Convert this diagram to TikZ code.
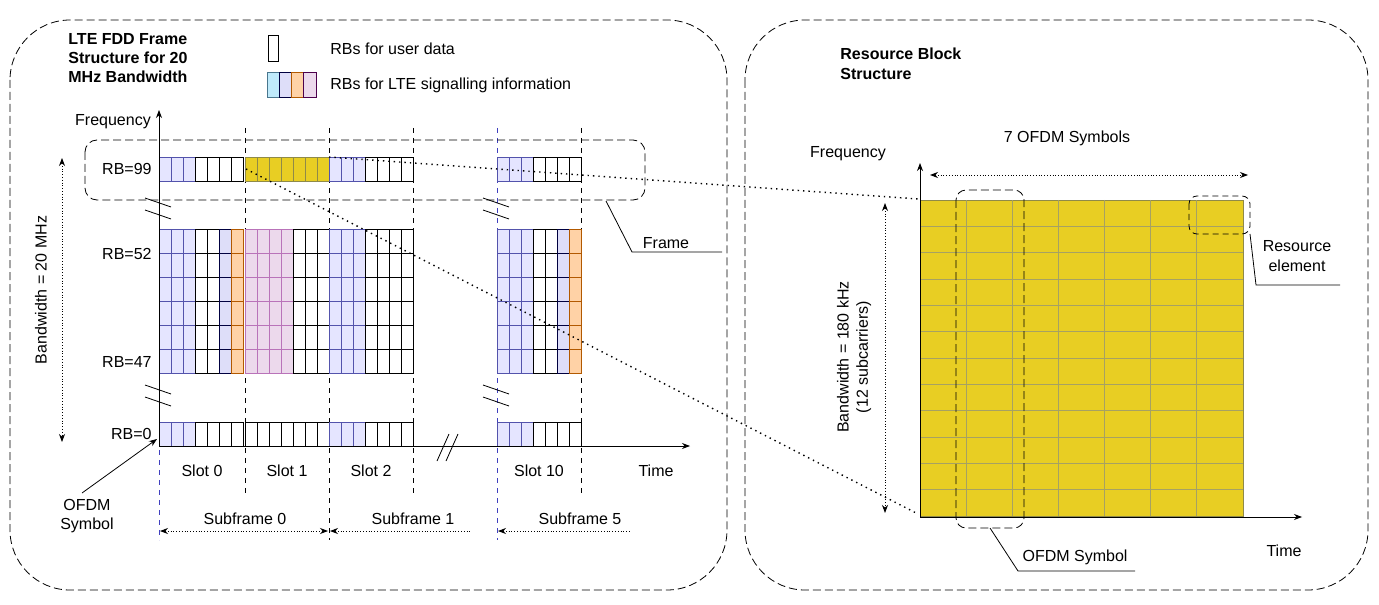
\documentclass[tikz,border=0pt]{standalone}
\usepackage{fontspec}
\setmainfont{Liberation Sans}
\usetikzlibrary{arrows.meta}
\begin{document}
\begin{tikzpicture}[x=0.5pt,y=-0.5pt,font=\fontsize{8}{9.6}\selectfont,
  bl/.style={fill=blue!10!white,draw=blue!35!gray},
  wh/.style={fill=white,draw=black},
  gr/.style={fill=gray!30!blue!15!white,draw=black!75!blue},
  og/.style={fill=orange!35!white,draw=orange!70!black},
  pu/.style={fill=violet!15!white,draw=violet!55!white},
  ye/.style={fill=yellow!80!orange!90!black!95,draw=yellow!50!black},
  panel/.style={draw,dash pattern=on 4pt off 2pt,rounded corners=30pt},
  vdash/.style={dash pattern=on 2.5pt off 2.5pt},
  dotarr/.style={densely dotted,{Stealth[length=4pt]}-{Stealth[length=4pt]}},
  proj/.style={dotted,line width=0.7pt},
  ax/.style={-{Stealth[length=4pt]}},
  lbl/.style={inner sep=1pt}]
\useasboundingbox (0,0) rectangle (1379,604);
\newcommand\cellrow[3]{\foreach \s [count=\i] in {#3} \draw[\s] ({#1+(\i-1)*12},#2) rectangle ++(12,24);}
% panels
\draw[panel] (10,20) rectangle (727,590);
\draw[panel] (745,20) rectangle (1368,590);
% title and legend
\node[lbl,font=\fontsize{8}{9.6}\selectfont\bfseries,align=left,anchor=north west] (title) at (66,31) {LTE FDD Frame\\Structure for 20\\MHz Bandwidth};
\draw[wh] (268,35) rectangle (278,61);
\node[lbl,anchor=west] (leg1) at (328,49) {RBs for user data};
\draw[fill=cyan!25!white,draw=cyan!50!black] (267,72) rectangle (279,97);
\draw[gr] (279,72) rectangle (291,97);
\draw[og] (291,72) rectangle (303,97);
\draw[fill=violet!15!white,draw=violet!60!black] (303,72) rectangle (316,97);
\node[lbl,anchor=west] (leg2) at (328,85) {RBs for LTE signalling information};
% vertical dashed lines
\draw[vdash,blue!50!gray] (159,140) -- (159,540);
\draw[vdash] (245,128) -- (245,495);
\draw[vdash] (329,128) -- (329,540);
\draw[vdash] (413,128) -- (413,495);
\draw[vdash,blue!50!gray] (497,128) -- (497,540);
\draw[vdash] (581,128) -- (581,495);
% cells
\cellrow{159}{157}{bl,bl,bl,wh,wh,wh,wh}
\cellrow{245}{157}{ye,ye,ye,ye,ye,ye,ye}
\cellrow{329}{157}{bl,bl,bl,wh,wh,wh,wh}
\cellrow{497}{157}{bl,bl,bl,wh,wh,wh,wh}
\foreach \r in {0,...,5}{
  \cellrow{159}{229+24*\r}{bl,bl,bl,wh,wh,gr,og}
  \cellrow{245}{229+24*\r}{pu,pu,pu,pu,wh,wh,wh}
  \cellrow{329}{229+24*\r}{bl,bl,bl,wh,wh,wh,wh}
  \cellrow{497}{229+24*\r}{bl,bl,bl,wh,wh,gr,og}
}
\cellrow{159}{422}{bl,bl,bl,wh,wh,wh,wh}
\cellrow{245}{422}{wh,wh,wh,wh,wh,wh,wh}
\cellrow{329}{422}{bl,bl,bl,wh,wh,wh,wh}
\cellrow{497}{422}{bl,bl,bl,wh,wh,wh,wh}
% axes
\coordinate (o1) at (159,446);
\draw[ax] (o1) -- (159,110);
\draw[ax] (o1) -- (690,446);
\node[lbl] (freq1) at (113,122) {Frequency};
\node[lbl] (time1) at (656,471) {Time};
% frame box
\draw[dash pattern=on 4pt off 2pt,rounded corners=6pt] (85,140) rectangle (645,200);
\coordinate (fr1) at (606,201);
\coordinate (fr2) at (632,252);
\coordinate (fr3) at (722,252);
\draw (fr1) -- (fr2) -- (fr3);
\node[lbl] (frame) at (666,243) {Frame};
% break marks
\foreach \x/\y in {159/205,159/392,497/205,497/392}{
  \draw (\x-14,\y-7) -- (\x+12,\y+2);
  \draw (\x-14,\y+5) -- (\x+12,\y+14);
}
\draw (437,461) -- (449,434); \draw (446,461) -- (458,434);
% RB labels
\node[lbl,anchor=east] (rb99) at (154,169) {RB=99};
\node[lbl,anchor=east] (rb52) at (154,254) {RB=52};
\node[lbl,anchor=east] (rb47) at (154,362) {RB=47};
\node[lbl,anchor=east] (rb0) at (154,434) {RB=0};
% bandwidth
\draw[dotarr] (62,158) -- (62,442);
\node[lbl,rotate=90] (bw) at (41,290) {Bandwidth = 20 MHz};
% OFDM symbol
\node[lbl,align=center] (ofdm1) at (87,516) {OFDM\\Symbol};
\coordinate (ofdmtip) at (157,439);
\draw[ax] (82,493) -- (ofdmtip);
% slots
\node[lbl] (s0) at (202,471) {Slot 0};
\node[lbl] (s1) at (287,471) {Slot 1};
\node[lbl] (s2) at (371,471) {Slot 2};
\node[lbl] (s10) at (539,471) {Slot 10};
% subframes
\draw[dotarr] (160,531) -- (328,531);
\draw[densely dotted,{Stealth[length=4pt]}-] (330,531) -- (470,531);
\draw[densely dotted,{Stealth[length=4pt]}-] (498,531) -- (630,531);
\node[lbl] (sf0) at (245,519) {Subframe 0};
\node[lbl] (sf1) at (413,519) {Subframe 1};
\node[lbl] (sf5) at (580,519) {Subframe 5};
% right panel
\node[lbl,font=\fontsize{8}{9.6}\selectfont\bfseries,align=left,anchor=north west] (title2) at (838,46) {Resource Block\\Structure};
\fill[ye] (920,200) rectangle (1243,516);
\foreach \i in {1,...,6} \draw[yellow!50!black!80] ({920+\i*46.14},200) -- ({920+\i*46.14},516);
\foreach \j in {1,...,11} \draw[yellow!50!black!80] (920,{200+\j*26.33}) -- (1243,{200+\j*26.33});
\coordinate (o2) at (920,517);
\draw[ax] (o2) -- (920,163);
\draw[ax] (o2) -- (1302,517);
\node[lbl] (freq2) at (848,154) {Frequency};
\node[lbl] (time2) at (1284,551) {Time};
\node[lbl] (seven) at (1067,138) {7 OFDM Symbols};
\draw[dotarr] (930,175) -- (1248,175);
\draw[dotarr] (885,203) -- (885,513);
\node[lbl,rotate=90,align=center] (bw2) at (854,357) {Bandwidth = 180 kHz\\(12 subcarriers)};
% projection lines
\draw[proj] (329,157) -- (918,199);
\draw[proj] (246,169) -- (918,514);
% OFDM symbol box
\draw[dash pattern=on 4pt off 2pt,rounded corners=5pt] (956,190) rectangle (1024,528);
\draw (990,528) -- (1018,571) -- (1135,571);
\node[lbl] (ofdm2) at (1075,557) {OFDM Symbol};
% resource element box
\draw[densely dashed,rounded corners=4pt] (1189,196) rectangle (1250,234);
\draw (1250,234) -- (1256,285) -- (1340,285);
\node[lbl,align=center] (re) at (1297,256) {Resource\\element};
\end{tikzpicture}
\end{document}
